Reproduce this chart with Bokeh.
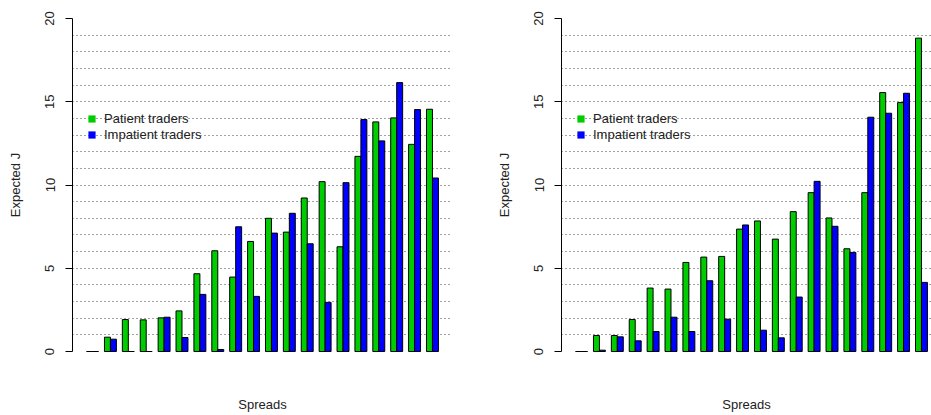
from bokeh.plotting import figure
from bokeh.models import Range1d, FixedTicker, Legend, LegendItem
from bokeh.layouts import row
from bokeh.embed import file_html
from bokeh.resources import INLINE

# ---- data ----
spreads = list(range(1, 21))
series_names = ["Patient traders", "Impatient traders"]
colors = ["#00CD00", "#0000FF"]

patient_left = [0, 0.86, 1.92, 1.90, 2.02, 2.44, 4.67, 6.05, 4.47, 6.61,
                8.00, 7.17, 9.22, 10.20, 6.29, 11.72, 13.79, 14.03, 12.44, 14.55]
impatient_left = [0, 0.74, 0, 0, 2.06, 0.84, 3.43, 0.12, 7.49, 3.31,
                  7.11, 8.30, 6.47, 2.95, 10.14, 13.93, 12.65, 16.15, 14.53, 10.42]

patient_right = [0, 0.96, 0.96, 1.92, 3.81, 3.75, 5.35, 5.67, 5.71, 7.35,
                 7.84, 6.75, 8.40, 9.54, 8.02, 6.17, 9.54, 15.55, 14.95, 18.82]
impatient_right = [0, 0.08, 0.88, 0.64, 1.20, 2.06, 1.20, 4.25, 1.94, 7.60,
                   1.28, 0.82, 3.27, 10.22, 7.52, 5.95, 14.07, 14.31, 15.51, 4.15]

y_ticks = [0, 5, 10, 15, 20]
grid_levels = list(range(1, 20))

FONT = "Liberation Sans"
PX_PER_X = 380 / 63.72
NAN = float("nan")


def make_panel(patient, impatient, width, border_left, border_right):
    frame_w = width - border_left - border_right
    x0 = -1.36
    x1 = x0 + frame_w / PX_PER_X
    p = figure(width=width, height=415, output_backend="svg", toolbar_location=None,
               x_range=Range1d(x0, x1), y_range=Range1d(-0.3, 20.3),
               min_border_left=border_left, min_border_right=border_right,
               min_border_top=13, min_border_bottom=59)
    p.outline_line_color = None
    p.background_fill_color = "white"

    xs_g = [3 * s - 1.5 for s in spreads]
    xs_b = [3 * s - 0.5 for s in spreads]
    p.vbar(x=xs_g, top=patient, bottom=0, width=1.0,
           fill_color=colors[0], line_color="black", line_width=1)
    p.vbar(x=xs_b, top=impatient, bottom=0, width=1.0,
           fill_color=colors[1], line_color="black", line_width=1)

    # legend swatches without border
    lg = p.quad(left=[NAN], right=[NAN], top=[NAN], bottom=[NAN],
                fill_color=colors[0], line_color=None)
    lb = p.quad(left=[NAN], right=[NAN], top=[NAN], bottom=[NAN],
                fill_color=colors[1], line_color=None)

    # grid
    p.xgrid.visible = False
    p.ygrid.ticker = FixedTicker(ticks=grid_levels)
    p.ygrid.grid_line_color = "#444444"
    p.ygrid.grid_line_dash = "1 3"
    p.ygrid.grid_line_width = 1

    # y axis
    ya = p.yaxis[0]
    ya.ticker = FixedTicker(ticks=y_ticks)
    ya.bounds = (0, 20)
    ya.minor_tick_line_color = None
    ya.major_tick_out = 7
    ya.major_tick_in = 0
    ya.axis_line_color = "black"
    ya.major_tick_line_color = "black"
    ya.major_label_orientation = "vertical"
    ya.major_label_text_font = FONT
    ya.major_label_text_font_size = "13px"
    ya.major_label_text_color = "#222222"
    ya.major_label_standoff = 11
    ya.axis_label = "Expected J"
    ya.axis_label_text_font = FONT
    ya.axis_label_text_font_size = "13px"
    ya.axis_label_text_font_style = "normal"
    ya.axis_label_text_color = "#222222"
    ya.axis_label_standoff = 20

    # x axis: label only
    xa = p.xaxis[0]
    xa.ticker = FixedTicker(ticks=[])
    xa.axis_line_color = None
    xa.major_tick_line_color = None
    xa.minor_tick_line_color = None
    xa.major_tick_out = 0
    xa.major_label_standoff = 0
    xa.axis_label = "Spreads"
    xa.axis_label_text_font = FONT
    xa.axis_label_text_font_size = "13px"
    xa.axis_label_text_font_style = "normal"
    xa.axis_label_text_color = "#222222"
    xa.axis_label_standoff = 40

    legend = Legend(items=[LegendItem(label=series_names[0], renderers=[lg]),
                           LegendItem(label=series_names[1], renderers=[lb])],
                    location=(15, 214), orientation="vertical",
                    glyph_width=9, glyph_height=9, label_height=16,
                    label_standoff=8, spacing=0, padding=0, margin=0,
                    border_line_color=None, background_fill_alpha=0,
                    label_text_font=FONT, label_text_font_size="13px",
                    label_text_color="#222222")
    p.add_layout(legend, "center")
    return p


left = make_panel(patient_left, impatient_left, 466, 72, 14)
right = make_panel(patient_right, impatient_right, 465, 95, 0)

layout = row(left, right, spacing=0)
open("out.html", "w").write(file_html(layout, INLINE))
